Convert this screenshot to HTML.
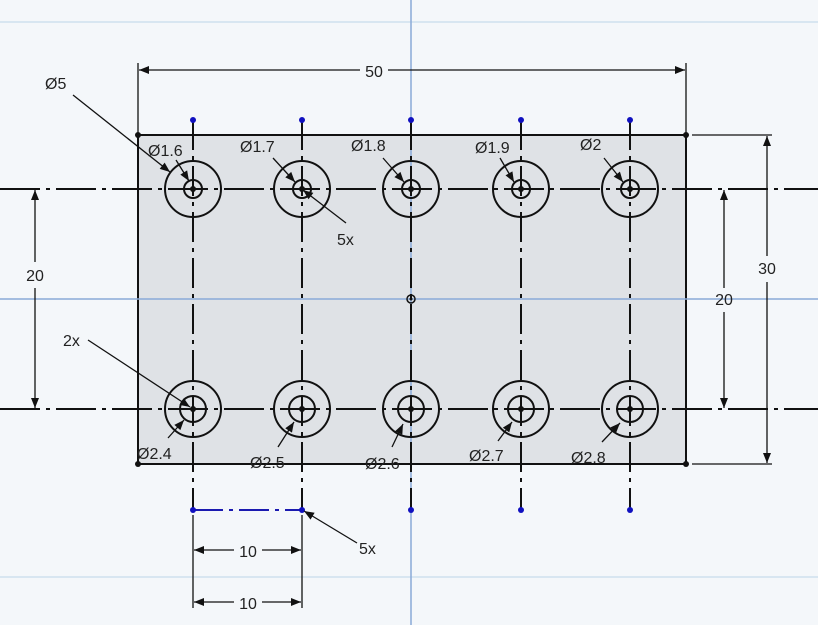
<!DOCTYPE html>
<html><head><meta charset="utf-8"><style>
html,body{margin:0;padding:0;background:#f4f7fa;}
svg{display:block}
text{font-family:"Liberation Sans",sans-serif;font-size:16px;fill:#222}
</style></head><body>
<svg width="818" height="625" viewBox="0 0 818 625" xmlns="http://www.w3.org/2000/svg">
<defs>
<marker id="a" viewBox="0 0 10 10" refX="10" refY="5" markerWidth="14" markerHeight="10" orient="auto-start-reverse" markerUnits="userSpaceOnUse"><path d="M0,1 L10,5 L0,9 z" fill="#111"/></marker>
</defs>
<rect width="818" height="625" fill="#f4f7fa"/>
<g stroke="#cfe0ee" stroke-width="1.5">
<line x1="0" y1="22" x2="818" y2="22"/><line x1="0" y1="577" x2="818" y2="577"/>
</g>
<rect x="138" y="135" width="548" height="329" fill="#dfe2e6" stroke="#111" stroke-width="2"/>
<line x1="0" y1="299" x2="818" y2="299" stroke="#8aaad8" stroke-width="1.5"/>
<line x1="411" y1="0" x2="411" y2="625" stroke="#8aaad8" stroke-width="1.5"/>
<g stroke="#111" stroke-width="2" stroke-dasharray="40,6,4,6">
<line x1="0" y1="189" x2="818" y2="189"/><line x1="0" y1="409" x2="818" y2="409"/>
</g>
<g stroke="#111" stroke-width="2" stroke-dasharray="30,6,4,6">
<line x1="193" y1="120" x2="193" y2="510"/><line x1="302" y1="120" x2="302" y2="510"/>
<line x1="411" y1="120" x2="411" y2="510"/><line x1="521" y1="120" x2="521" y2="510"/>
<line x1="630" y1="120" x2="630" y2="510"/>
</g>
<line x1="193" y1="510" x2="302" y2="510" stroke="#1a1ab0" stroke-width="2" stroke-dasharray="30,6,4,6"/>
<g fill="none" stroke="#111" stroke-width="2">
<circle cx="193" cy="189" r="28"/><circle cx="193" cy="189" r="9"/>
<circle cx="302" cy="189" r="28"/><circle cx="302" cy="189" r="9"/>
<circle cx="411" cy="189" r="28"/><circle cx="411" cy="189" r="9"/>
<circle cx="521" cy="189" r="28"/><circle cx="521" cy="189" r="9"/>
<circle cx="630" cy="189" r="28"/><circle cx="630" cy="189" r="9"/>
<circle cx="193" cy="409" r="28"/><circle cx="193" cy="409" r="13"/>
<circle cx="302" cy="409" r="28"/><circle cx="302" cy="409" r="13"/>
<circle cx="411" cy="409" r="28"/><circle cx="411" cy="409" r="13"/>
<circle cx="521" cy="409" r="28"/><circle cx="521" cy="409" r="13"/>
<circle cx="630" cy="409" r="28"/><circle cx="630" cy="409" r="13"/>
<circle cx="411" cy="299" r="4" stroke-width="1.5"/>
</g>
<g fill="#111">
<circle cx="193" cy="189" r="3"/><circle cx="302" cy="189" r="3"/><circle cx="411" cy="189" r="3"/><circle cx="521" cy="189" r="3"/><circle cx="630" cy="189" r="3"/>
<circle cx="193" cy="409" r="3"/><circle cx="302" cy="409" r="3"/><circle cx="411" cy="409" r="3"/><circle cx="521" cy="409" r="3"/><circle cx="630" cy="409" r="3"/>
<circle cx="411" cy="299" r="1.5"/>
<circle cx="138" cy="135" r="3"/><circle cx="686" cy="135" r="3"/><circle cx="138" cy="464" r="3"/><circle cx="686" cy="464" r="3"/>
</g>
<g fill="#1010c0">
<circle cx="193" cy="120" r="3"/><circle cx="302" cy="120" r="3"/><circle cx="411" cy="120" r="3"/><circle cx="521" cy="120" r="3"/><circle cx="630" cy="120" r="3"/>
<circle cx="193" cy="510" r="3"/><circle cx="302" cy="510" r="3"/><circle cx="411" cy="510" r="3"/><circle cx="521" cy="510" r="3"/><circle cx="630" cy="510" r="3"/>
</g>
<g stroke="#111" stroke-width="1.3" fill="none">
<line x1="138" y1="63" x2="138" y2="135"/><line x1="686" y1="63" x2="686" y2="135"/>
<line x1="692" y1="135" x2="772" y2="135"/><line x1="692" y1="464" x2="772" y2="464"/>
<line x1="193" y1="515" x2="193" y2="608"/><line x1="302" y1="515" x2="302" y2="608"/>
<line x1="139" y1="70" x2="360" y2="70" marker-start="url(#a)"/><line x1="388" y1="70" x2="685" y2="70" marker-end="url(#a)"/>
<line x1="767" y1="136" x2="767" y2="256" marker-start="url(#a)"/><line x1="767" y1="282" x2="767" y2="463" marker-end="url(#a)"/>
<line x1="724" y1="190" x2="724" y2="288" marker-start="url(#a)"/><line x1="724" y1="312" x2="724" y2="408" marker-end="url(#a)"/>
<line x1="35" y1="190" x2="35" y2="262" marker-start="url(#a)"/><line x1="35" y1="288" x2="35" y2="408" marker-end="url(#a)"/>
<line x1="194" y1="550" x2="234" y2="550" marker-start="url(#a)"/><line x1="262" y1="550" x2="301" y2="550" marker-end="url(#a)"/>
<line x1="194" y1="602" x2="234" y2="602" marker-start="url(#a)"/><line x1="262" y1="602" x2="301" y2="602" marker-end="url(#a)"/>
<line x1="73" y1="95" x2="170" y2="172" marker-end="url(#a)"/>
<line x1="88" y1="340" x2="190" y2="407" marker-end="url(#a)"/>
<line x1="346" y1="223" x2="303" y2="190" marker-end="url(#a)"/>
<line x1="357" y1="543" x2="304" y2="511" marker-end="url(#a)"/>
<line x1="176" y1="160" x2="189" y2="181" marker-end="url(#a)"/>
<line x1="273" y1="158" x2="295" y2="182" marker-end="url(#a)"/>
<line x1="383" y1="158" x2="404" y2="182" marker-end="url(#a)"/>
<line x1="500" y1="158" x2="514" y2="182" marker-end="url(#a)"/>
<line x1="604" y1="158" x2="623" y2="182" marker-end="url(#a)"/>
<line x1="168" y1="438" x2="184" y2="420" marker-end="url(#a)"/>
<line x1="278" y1="447" x2="294" y2="422" marker-end="url(#a)"/>
<line x1="392" y1="447" x2="403" y2="424" marker-end="url(#a)"/>
<line x1="498" y1="441" x2="512" y2="422" marker-end="url(#a)"/>
<line x1="602" y1="442" x2="620" y2="423" marker-end="url(#a)"/>
</g>
<text x="374" y="77" text-anchor="middle">50</text>
<text x="767" y="274" text-anchor="middle">30</text>
<text x="724" y="305" text-anchor="middle">20</text>
<text x="35" y="281" text-anchor="middle">20</text>
<text x="248" y="557" text-anchor="middle">10</text>
<text x="248" y="609" text-anchor="middle">10</text>
<text x="45" y="89">Ø5</text>
<text x="63" y="346">2x</text>
<text x="337" y="245">5x</text>
<text x="359" y="554">5x</text>
<text x="148" y="156">Ø1.6</text>
<text x="240" y="152">Ø1.7</text>
<text x="351" y="151">Ø1.8</text>
<text x="475" y="153">Ø1.9</text>
<text x="580" y="150">Ø2</text>
<text x="137" y="459">Ø2.4</text>
<text x="250" y="468">Ø2.5</text>
<text x="365" y="469">Ø2.6</text>
<text x="469" y="461">Ø2.7</text>
<text x="571" y="463">Ø2.8</text>
</svg>
</body></html>
